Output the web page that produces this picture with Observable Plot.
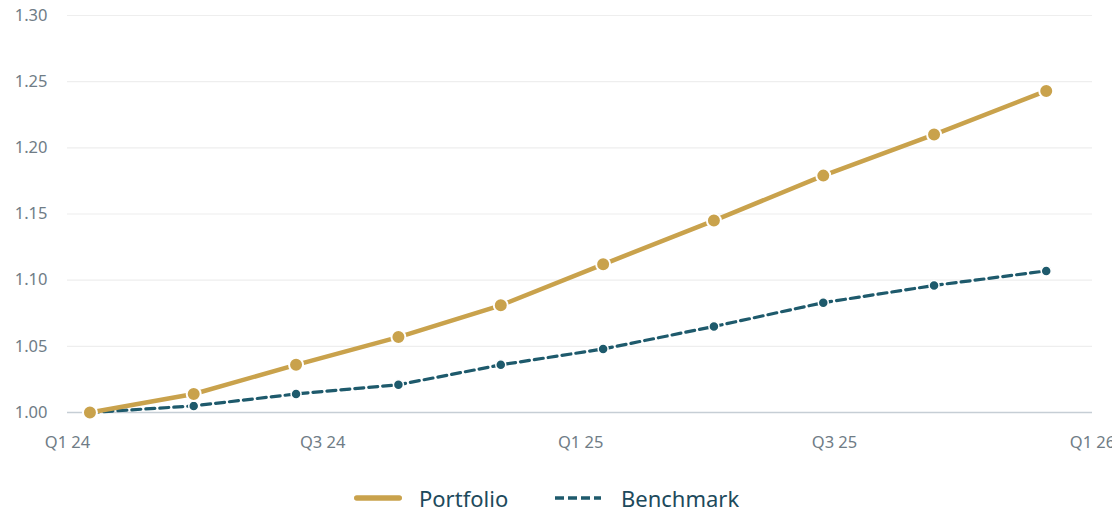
<!DOCTYPE html>
<html>
<head>
<meta charset="utf-8">
<script src="https://cdn.jsdelivr.net/npm/d3@7"></script>
<script src="https://cdn.jsdelivr.net/npm/@observablehq/plot@0.6"></script>
<style>
  body { margin: 0; background: #fff; font-family: "Noto Sans", "Open Sans", sans-serif; }
  #wrap { position: relative; width: 1112px; height: 511px; }
  #legend { position: absolute; left: 0; top: 484px; height: 28px; width: 1112px; }
  .item { position: absolute; top: 0; height: 28px; line-height: 28px; display: flex; align-items: center; font-size: 22px; color: #1d4a5c; }
  .item svg { display: block; }
</style>
</head>
<body>
<div id="wrap">
  <div id="chart"></div>
  <div id="legend"></div>
</div>
<script>
const dates = ["2024-01-17","2024-03-31","2024-06-12","2024-08-24","2024-11-05",
               "2025-01-17","2025-04-06","2025-06-23","2025-09-10","2025-11-29"];
const portfolio = [1.000, 1.014, 1.036, 1.057, 1.081, 1.112, 1.145, 1.179, 1.210, 1.243];
const benchmark = [1.000, 1.005, 1.014, 1.021, 1.036, 1.048, 1.065, 1.083, 1.096, 1.107];
const yTicks = [1.00, 1.05, 1.10, 1.15, 1.20, 1.25, 1.30];
const xTickDates = ["2024-01-01","2024-07-01","2025-01-01","2025-07-01","2026-01-01"];
const xTickLabels = ["Q1 24","Q3 24","Q1 25","Q3 25","Q1 26"];
const seriesNames = ["Portfolio", "Benchmark"];
const colors = {Portfolio: "#c9a24c", Benchmark: "#1e5a6c"};

const parse = d3.utcParse("%Y-%m-%d");
const pRows = dates.map((d, i) => ({date: parse(d), value: portfolio[i]}));
const bRows = dates.map((d, i) => ({date: parse(d), value: benchmark[i]}));
const xt = xTickDates.map(parse);
const labelOf = new Map(xt.map((d, i) => [+d, xTickLabels[i]]));

const chart = Plot.plot({
  width: 1112,
  height: 460,
  marginLeft: 67,
  marginRight: 20,
  marginTop: 15,
  marginBottom: 48,
  style: {fontFamily: "'Noto Sans', 'Open Sans', sans-serif", fontSize: "16.5px", background: "white", overflow: "visible"},
  x: {type: "utc", domain: [xt[0], xt[xt.length - 1]]},
  y: {domain: [1.0, 1.3]},
  marks: [
    Plot.gridY(yTicks.slice(1), {stroke: "#eeeeee", strokeOpacity: 1, strokeWidth: 1.2}),
    Plot.ruleY([1.0], {stroke: "#c6ced5", strokeWidth: 1.5}),
    Plot.axisY(yTicks, {tickSize: 0, tickPadding: 20, tickFormat: d3.format(".2f"), fill: "#6f7c86", label: null}),
    Plot.axisX(xt, {tickSize: 0, tickPadding: 24, tickFormat: d => labelOf.get(+d), fill: "#6f7c86", label: null}),
    Plot.line(bRows, {x: "date", y: "value", stroke: colors.Benchmark, strokeWidth: 3.2, strokeDasharray: "9,5"}),
    Plot.dot(bRows, {x: "date", y: "value", r: 5, fill: colors.Benchmark, stroke: "white", strokeWidth: 1.5}),
    Plot.line(pRows, {x: "date", y: "value", stroke: colors.Portfolio, strokeWidth: 4.5}),
    Plot.dot(pRows, {x: "date", y: "value", r: 7, fill: colors.Portfolio, stroke: "white", strokeWidth: 2})
  ]
});
document.getElementById("chart").appendChild(chart);

// Legend
const legend = document.getElementById("legend");
const legendSpecs = [
  {name: seriesNames[0], left: 354, w: 48, dash: null, sw: 5.5, gap: 17},
  {name: seriesNames[1], left: 555, w: 46, dash: "9,4", sw: 3.5, gap: 20}
];
legendSpecs.forEach(s => {
  const item = document.createElement("div");
  item.className = "item";
  item.style.left = s.left + "px";
  const ns = "http://www.w3.org/2000/svg";
  const svg = document.createElementNS(ns, "svg");
  svg.setAttribute("width", s.w);
  svg.setAttribute("height", 12);
  const ln = document.createElementNS(ns, "line");
  const cap = s.dash ? 0 : 2.75;
  ln.setAttribute("x1", cap); ln.setAttribute("x2", s.w - cap);
  ln.setAttribute("y1", 6); ln.setAttribute("y2", 6);
  ln.setAttribute("stroke", colors[s.name]);
  ln.setAttribute("stroke-width", s.sw);
  if (s.dash) ln.setAttribute("stroke-dasharray", s.dash);
  else ln.setAttribute("stroke-linecap", "round");
  svg.appendChild(ln);
  item.appendChild(svg);
  const t = document.createElement("span");
  t.textContent = s.name;
  t.style.marginLeft = s.gap + "px";
  item.appendChild(t);
  legend.appendChild(item);
});
</script>
</body>
</html>
